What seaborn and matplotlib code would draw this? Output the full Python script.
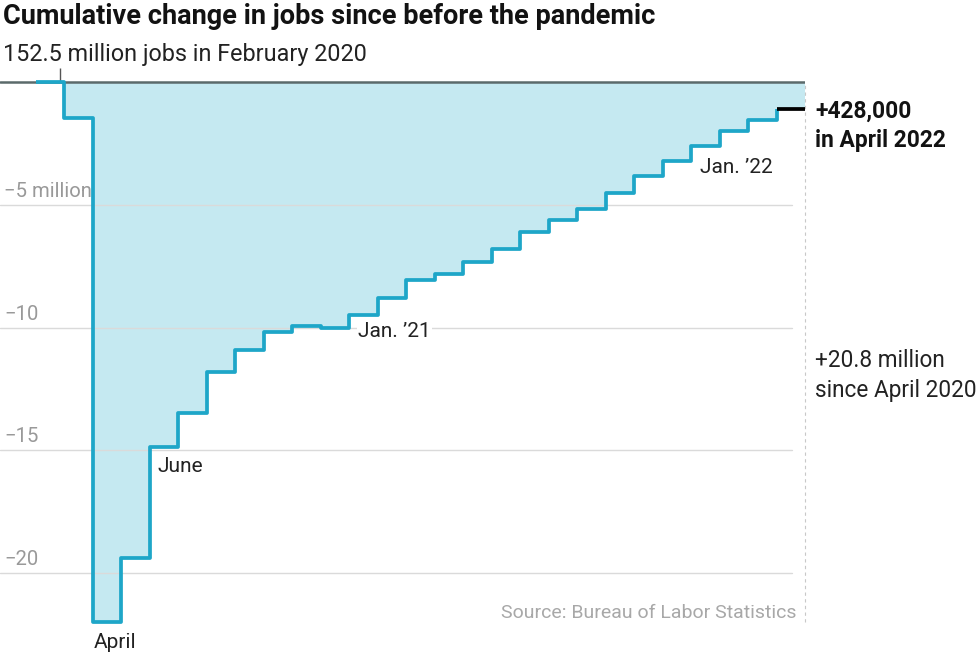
import numpy as np
import pandas as pd
import matplotlib
matplotlib.use("Agg")
import matplotlib.pyplot as plt
import seaborn as sns

# cumulative change in jobs since Feb 2020, millions
months = ["Feb 2020", "Mar 2020", "Apr 2020", "May 2020", "Jun 2020", "Jul 2020",
          "Aug 2020", "Sep 2020", "Oct 2020", "Nov 2020", "Dec 2020",
          "Jan 2021", "Feb 2021", "Mar 2021", "Apr 2021", "May 2021", "Jun 2021",
          "Jul 2021", "Aug 2021", "Sep 2021", "Oct 2021", "Nov 2021", "Dec 2021",
          "Jan 2022", "Feb 2022", "Mar 2022", "Apr 2022"]
change = [0.0, -1.47, -22.0, -19.4, -14.86, -13.47,
          -11.8, -10.9, -10.2, -9.92, -10.0,
          -9.5, -8.78, -8.08, -7.84, -7.35, -6.82,
          -6.12, -5.63, -5.18, -4.53, -3.84, -3.22,
          -2.61, -2.0, -1.55, -1.10]

grid_vals = [-5, -10, -15, -20]
grid_labels = ["\u22125 million", "\u221210", "\u221215", "\u221220"]

# month labels placed on the line: (month, text, x offset px, y offset px)
point_labels = [("Apr 2020", "April", 1, -26),
                ("Jun 2020", "June", 8, -25),
                ("Jan 2021", "Jan. \u201921", 9, -22),
                ("Jan 2022", "Jan. \u201922", 9, -27)]

LINE = "#1ea6c8"
FILL = "#c5e9f1"

sns.set_theme(style="white")
plt.rcParams["font.family"] = ["Roboto", "DejaVu Sans"]

W, H = 980, 653
fig = plt.figure(figsize=(W / 100, H / 100), dpi=100)
ax = fig.add_axes([0, 1 - 640 / H, 805 / W, 570 / H])

df = pd.DataFrame({"month": months, "change": change})
df["i"] = np.arange(len(df))
# one extra point closes the last step
ext = pd.concat([df, pd.DataFrame({"month": ["end"], "change": [change[-1]],
                                   "i": [len(df)]})], ignore_index=True)

ax.fill_between(ext["i"], ext["change"], 0, step="post", color=FILL, lw=0, zorder=1)

for v in grid_vals:
    ax.axhline(v, xmin=0, xmax=792 / 805, color="#dadada", lw=1, zorder=2)

ax.axhline(0, color="#5b6a6b", lw=1.8, zorder=3)

sns.lineplot(data=df, x="i", y="change", drawstyle="steps-post", color=LINE,
             lw=2.7, ax=ax, zorder=4)
sns.lineplot(data=ext.tail(2), x="i", y="change", color="black", lw=2.7,
             ax=ax, zorder=5)
for l in ax.lines[-2:]:
    l.set_solid_capstyle("butt")
    l.set_clip_on(False)

ax.vlines(len(df), min(change), 0, colors="#c8c8c8", lw=0.8,
          linestyles=(0, (3, 3)), clip_on=False, zorder=2)
# small tick pointing at Feb 2020 level
ax.vlines(0.85, 0, 0.57, colors="#555555", lw=1, clip_on=False, zorder=3)

ax.set_xlim(-1.25, len(df))
ax.set_ylim(-22.73, 0.49)
ax.set_xticks([])
ax.set_yticks([])
ax.set_xlabel("")
ax.set_ylabel("")
sns.despine(ax=ax, left=True, bottom=True)

for v, lab in zip(grid_vals, grid_labels):
    ax.annotate(lab, xy=(0, v), xycoords=("axes fraction", "data"),
                xytext=(4, 8), textcoords="offset pixels",
                fontsize=14.6, color="#999999", va="baseline")

for m, lab, dx, dy in point_labels:
    row = df[df["month"] == m].iloc[0]
    t = ax.annotate(lab, xy=(row["i"], row["change"]), xytext=(dx, dy),
                    textcoords="offset pixels", fontsize=15, color="#222222",
                    va="baseline", zorder=6)
    if m == "Jan 2021":
        t.set_bbox(dict(facecolor="white", edgecolor="none", pad=1))

fig.text(3 / W, 1 - 24.5 / H, "Cumulative change in jobs since before the pandemic",
         fontsize=19.5, fontweight="bold", color="#121212", va="baseline")
fig.text(3 / W, 1 - 61.5 / H, "152.5 million jobs in February 2020",
         fontsize=16.8, color="#222222", va="baseline")

fig.text(815 / W, 1 - 118 / H, "+428,000", fontsize=16.4, fontweight="bold",
         color="#121212", va="baseline")
fig.text(815 / W, 1 - 147 / H, "in April 2022", fontsize=16.4, fontweight="bold",
         color="#121212", va="baseline")
fig.text(815 / W, 1 - 367 / H, "+20.8 million", fontsize=16.3,
         color="#222222", va="baseline")
fig.text(815 / W, 1 - 397 / H, "since April 2020", fontsize=16.3,
         color="#222222", va="baseline")
fig.text(796 / W, 1 - 618 / H, "Source: Bureau of Labor Statistics", fontsize=14,
         color="#a8a8a8", ha="right", va="baseline")

fig.savefig("out.png", dpi=100)
